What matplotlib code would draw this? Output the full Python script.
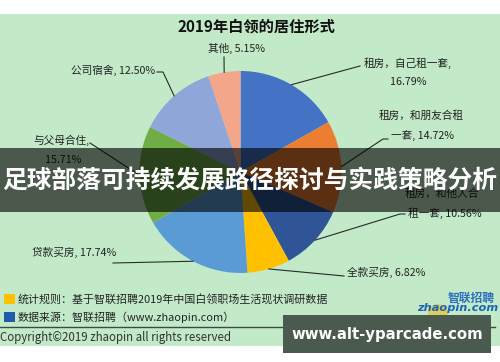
import matplotlib
matplotlib.use('Agg')
import matplotlib.pyplot as plt
import numpy as np
from matplotlib.patches import Rectangle, Circle
from matplotlib.lines import Line2D

plt.rcParams['font.family'] = ['Noto Sans CJK SC', 'DejaVu Sans']

# ---------------- data ----------------
title = '2019年白领的居住形式'
categories = ['租房，自己租一套', '租房，和朋友合租一套', '租房，和他人合租一套', '全款买房',
              '贷款买房', '与父母合住', '公司宿舍', '其他']
values = [16.79, 14.72, 10.56, 6.82, 17.74, 15.71, 12.50, 5.15]
colors = ['#4472C4', '#ED7D31', '#2F5597', '#FFC000', '#5B9BD5', '#70AD47', '#8FA6D8', '#F4A68B']
legend_notes = ['统计规则：基于智联招聘2019年中国白领职场生活现状调研数据',
                '数据来源：智联招聘（www.zhaopin.com）']
legend_colors = ['#FFC000', '#1F5BAA']
copyright_text = 'Copyright©2019 zhaopin all rights reserved'
banner_text = '足球部落可持续发展路径探讨与实践策略分析'
watermark_text = 'www.alt-yparcade.com'

# ---------------- layout ----------------
W, H = 500, 362
fig = plt.figure(figsize=(W / 100, H / 100), dpi=100)
bg = fig.add_axes([0, 0, 1, 1], zorder=0)
bg.set_xlim(0, W); bg.set_ylim(H, 0); bg.axis('off')
bg.add_patch(Rectangle((0, 14), W, 332, facecolor='#C2EAC9', edgecolor='none'))

cx, cy, r = 240.5, 172, 101
pie_ax = fig.add_axes([(cx - r) / W, (H - cy - r) / H, 2 * r / W, 2 * r / H], zorder=1)
pie_ax.pie(values, colors=colors, startangle=90, counterclock=False, radius=1,
           wedgeprops=dict(linewidth=0))
pie_ax.set_xlim(-1, 1); pie_ax.set_ylim(-1, 1); pie_ax.axis('off')

ov = fig.add_axes([0, 0, 1, 1], zorder=2)
ov.set_xlim(0, W); ov.set_ylim(H, 0); ov.axis('off')
ov.patch.set_alpha(0)

# title
ov.text(256, 27, title, ha='center', va='center', fontsize=11, fontweight='bold', color='#111111')

def pct(v):
    return f'{v:.2f}%'

label_lines = [
    [categories[0] + ',', pct(values[0])],
    [categories[1][:-2], categories[1][-2:] + ', ' + pct(values[1])],
    [categories[2][:-3], categories[2][-3:] + ', ' + pct(values[2])],
    [categories[3] + ', ' + pct(values[3])],
    [categories[4] + ', ' + pct(values[4])],
    [categories[5] + ',', pct(values[5])],
    [categories[6] + ', ' + pct(values[6])],
    [categories[7] + ', ' + pct(values[7])],
]
label_pos = [
    [(408, 63, 'center'), (408, 82, 'center')],
    [(379, 116, 'left'), (391, 135, 'left')],
    [(405, 194, 'left'), (408, 213, 'left')],
    [(347, 272, 'left')],
    [(32, 252, 'left')],
    [(33, 140, 'left'), (45, 160, 'left')],
    [(155, 70, 'right')],
    [(236, 48, 'center')],
]
leader_pts = [
    [(360, 66)],
    [(388, 139), (383, 139)],
    [(405, 214), (400, 214)],
    [(344, 276)],
    [(113, 263)],
    [(90, 143)],
    [(157, 72), (163, 72)],
    [(224, 57)],
]
lab_fs = 7.7
for lines, poss in zip(label_lines, label_pos):
    for t, (x, y, ha) in zip(lines, poss):
        ov.text(x, y, t, ha=ha, va='center', fontsize=lab_fs, color='#222222', zorder=3)

cum = np.concatenate([[0], np.cumsum(values)])
for i, v in enumerate(values):
    mid = np.deg2rad(90 - 3.6 * (cum[i] + v / 2))
    ax_, ay_ = cx + r * np.cos(mid), cy - r * np.sin(mid)
    pts = leader_pts[i] + [(ax_, ay_)]
    xs, ys = zip(*pts)
    ov.add_line(Line2D(xs, ys, color='#2a2a2a', lw=0.8, zorder=3))

# legend notes
for k, (note, c) in enumerate(zip(legend_notes, legend_colors)):
    y = 299 + k * 18
    ov.add_patch(Rectangle((4, y - 5), 11, 10, facecolor=c, edgecolor='none'))
    ov.text(18, y, note, ha='left', va='center', fontsize=7.9, color='#222222')

ov.add_line(Line2D([0, 495], [327, 327], color='#3E4A40', lw=1.0))
ov.text(0, 338, copyright_text, ha='left', va='center', fontsize=8.3, color='#333333')

# logo
ov.add_patch(Circle((438, 314), 10, facecolor='#F5B400', alpha=0.55, edgecolor='none'))
ov.text(495, 298, '智联招聘', ha='right', va='center', fontsize=8.5, fontweight='bold',
        style='italic', color='#2C6FBF')
ov.text(417, 308, 'zhaopin.com', ha='left', va='center', fontsize=8.2, fontweight='bold',
        style='italic', color='#1E63B5', family='DejaVu Sans')

# banner (on top of labels)
ov.add_patch(Rectangle((0, 148), W, 64, facecolor='black', alpha=0.62, edgecolor='none', zorder=10))
ov.text(250, 181, banner_text, ha='center', va='center', fontsize=17.8, fontweight='bold',
        color='white', zorder=11)

# watermark
ov.add_patch(Rectangle((283, 315), 208, 38, facecolor='#4B5A4F', edgecolor='none', zorder=10))
ov.text(387, 335, watermark_text, ha='center', va='center', fontsize=10.7, fontweight='bold',
        color='white', family='DejaVu Sans', zorder=11)

fig.savefig('out.png', dpi=100)
